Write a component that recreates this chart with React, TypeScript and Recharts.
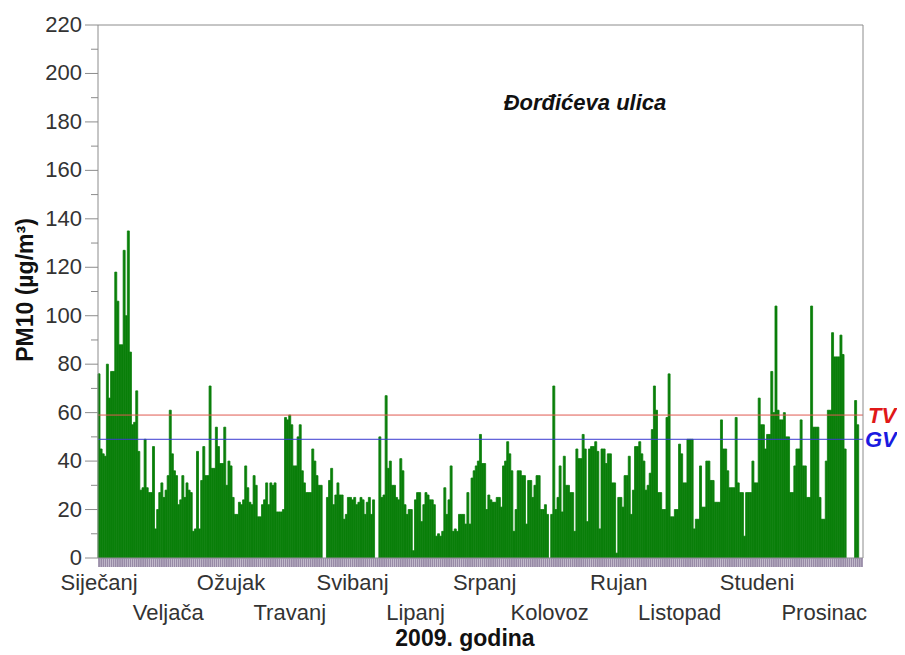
import { BarChart, Bar, XAxis, YAxis, ReferenceLine, Customized } from 'recharts'

// Daily PM10 means, 2009, one array per month (µg/m³, 0 = no measurement)
const JAN = [76, 45, 43, 42, 80, 66, 77, 77, 118, 106, 88, 88, 127, 100, 135, 85, 55, 56, 69, 44, 28, 29, 49, 29, 27, 27, 46, 12, 20, 27, 31]
const FEB = [25, 28, 34, 61, 43, 36, 34, 22, 24, 34, 25, 31, 28, 27, 11, 12, 44, 12, 32, 46, 34, 34, 71, 37, 37, 54, 46, 39]
const MAR = [39, 54, 30, 40, 38, 25, 18, 18, 23, 22, 24, 38, 29, 23, 22, 34, 30, 17, 17, 22, 24, 31, 22, 31, 30, 31, 19, 19, 19, 20, 58]
const APR = [57, 59, 55, 38, 38, 50, 55, 36, 31, 27, 27, 27, 45, 40, 34, 30, 30, 0, 0, 25, 32, 37, 22, 26, 31, 26, 26, 16, 18, 25]
const MAY = [25, 24, 25, 22, 23, 25, 24, 18, 23, 25, 18, 24, 0, 0, 50, 25, 26, 67, 37, 40, 30, 30, 25, 24, 41, 36, 22, 18, 20, 20, 3]
const JUN = [24, 27, 27, 15, 22, 27, 26, 24, 24, 22, 9, 10, 9, 11, 29, 18, 24, 38, 11, 12, 11, 18, 18, 18, 14, 27, 14, 33, 36, 38]
const JUL = [40, 51, 39, 39, 20, 26, 24, 23, 23, 25, 25, 21, 38, 40, 48, 43, 36, 11, 20, 36, 36, 34, 34, 14, 32, 32, 25, 30, 34, 34, 20]
const AUG = [20, 22, 18, 0, 18, 71, 20, 25, 38, 19, 42, 30, 30, 27, 27, 11, 45, 41, 41, 51, 45, 15, 45, 46, 46, 48, 44, 12, 45, 45, 39]
const SEP = [43, 43, 31, 31, 2, 25, 25, 21, 34, 34, 42, 18, 28, 46, 46, 48, 43, 40, 28, 30, 35, 53, 71, 61, 27, 27, 20, 20, 58, 76]
const OCT = [17, 17, 20, 20, 47, 43, 31, 31, 49, 49, 49, 12, 16, 16, 38, 21, 21, 40, 40, 32, 32, 23, 23, 23, 57, 45, 45, 36, 29, 29, 29]
const NOV = [58, 31, 27, 27, 9, 27, 27, 27, 40, 31, 31, 66, 55, 55, 45, 51, 51, 77, 60, 104, 61, 57, 57, 60, 50, 50, 27, 27, 38, 45]
const DEC = [45, 57, 38, 38, 25, 25, 104, 54, 54, 54, 25, 16, 16, 40, 61, 61, 93, 83, 83, 83, 92, 84, 45, 0, 0, 0, 0, 65, 55, 0, 0]

const MONTHS = ['Siječanj', 'Veljača', 'Ožujak', 'Travanj', 'Svibanj', 'Lipanj', 'Srpanj', 'Kolovoz', 'Rujan', 'Listopad', 'Studeni', 'Prosinac']
// day index under which each month name sits
const MONTH_LABEL_DAY = [0, 33, 63, 91, 121, 151, 184, 215, 248, 277, 314, 346]

const Y_TICKS = [0, 10, 20, 30, 40, 50, 60, 70, 80, 90, 100, 110, 120, 130, 140, 150, 160, 170, 180, 190, 200, 210, 220]

const TV = 59 // tolerantna vrijednost
const GV = 49 // granična vrijednost

const FONT = '"Liberation Sans", Arial, sans-serif'
const AXIS_GREY = '#8c8c8c'
const BAR_GREEN = '#0a7f0a'

const PM10 = [...JAN, ...FEB, ...MAR, ...APR, ...MAY, ...JUN, ...JUL, ...AUG, ...SEP, ...OCT, ...NOV, ...DEC]
const data = PM10.map((v, i) => ({ day: i, pm10: v }))

function YTick(props: any) {
  const { x, y, payload } = props
  const major = payload.value % 20 === 0
  return (
    <g>
      <line x1={x - (major ? 13 : 7)} x2={x} y1={y} y2={y} stroke={AXIS_GREY} />
      {major && (
        <text x={x - 16} y={y} dy={7} textAnchor="end" fontSize={22} fill="#333" fontFamily={FONT}>
          {payload.value}
        </text>
      )}
    </g>
  )
}

function MonthTick(props: any) {
  const { x, y, payload } = props
  const k = MONTH_LABEL_DAY.indexOf(payload.value)
  if (k < 0) return null
  return (
    <text x={x} y={y} dy={k % 2 === 0 ? 23 : 53} textAnchor="middle" fontSize={22} fill="#333" fontFamily={FONT}>
      {MONTHS[k]}
    </text>
  )
}

function Annotations() {
  return (
    <g fontFamily={FONT}>
      <text x={577} y={94} dy={8} textAnchor="middle" fontSize={22} fontWeight="bold" fontStyle="italic" fill="#111">
        Đorđićeva ulica
      </text>
      <text x={457} y={638} textAnchor="middle" fontSize={23} fontWeight="bold" fill="#111">
        2009. godina
      </text>
      <text
        x={17}
        y={282}
        dy={8}
        textAnchor="middle"
        fontSize={23}
        fontWeight="bold"
        fill="#111"
        transform="rotate(-90, 17, 282)"
      >
        PM10 (µg/m³)
      </text>
    </g>
  )
}

export default function App() {
  return (
    <div style={{ width: 897, height: 647 }}>
      <BarChart
        width={897}
        height={647}
        data={data}
        margin={{ top: 17, right: 40, left: 0, bottom: 0 }}
        barCategoryGap={0}
        barGap={0}
      >
        <XAxis
          dataKey="day"
          interval={0}
          height={97}
          tickSize={9}
          tickMargin={0}
          tickLine={{ stroke: '#978aa6', strokeWidth: 1.8 }}
          axisLine={{ stroke: AXIS_GREY }}
          tick={(p: any) => <MonthTick {...p} />}
        />
        <YAxis
          domain={[0, 220]}
          ticks={Y_TICKS}
          interval={0}
          width={90}
          tickSize={0}
          tickMargin={0}
          tickLine={false}
          axisLine={{ stroke: AXIS_GREY }}
          tick={(p: any) => <YTick {...p} />}
        />
        <YAxis
          yAxisId="frame"
          orientation="right"
          domain={[0, 220]}
          width={2}
          tick={false}
          tickLine={false}
          axisLine={{ stroke: AXIS_GREY }}
        />
        <ReferenceLine y={220} stroke={AXIS_GREY} />
        <Bar dataKey="pm10" fill={BAR_GREEN} stroke={BAR_GREEN} strokeWidth={0.8} isAnimationActive={false} />
        <ReferenceLine
          y={TV}
          stroke="#e05a50"
          label={{ value: 'TV', position: 'right', offset: 5, fill: '#e01818', fontSize: 22, fontWeight: 'bold', fontStyle: 'italic', fontFamily: FONT }}
        />
        <ReferenceLine
          y={GV}
          stroke="#3a3ad0"
          label={{ value: 'GV', position: 'right', offset: 2, fill: '#1a1ae0', fontSize: 22, fontWeight: 'bold', fontStyle: 'italic', fontFamily: FONT }}
        />
        <Customized component={Annotations} />
      </BarChart>
    </div>
  )
}
